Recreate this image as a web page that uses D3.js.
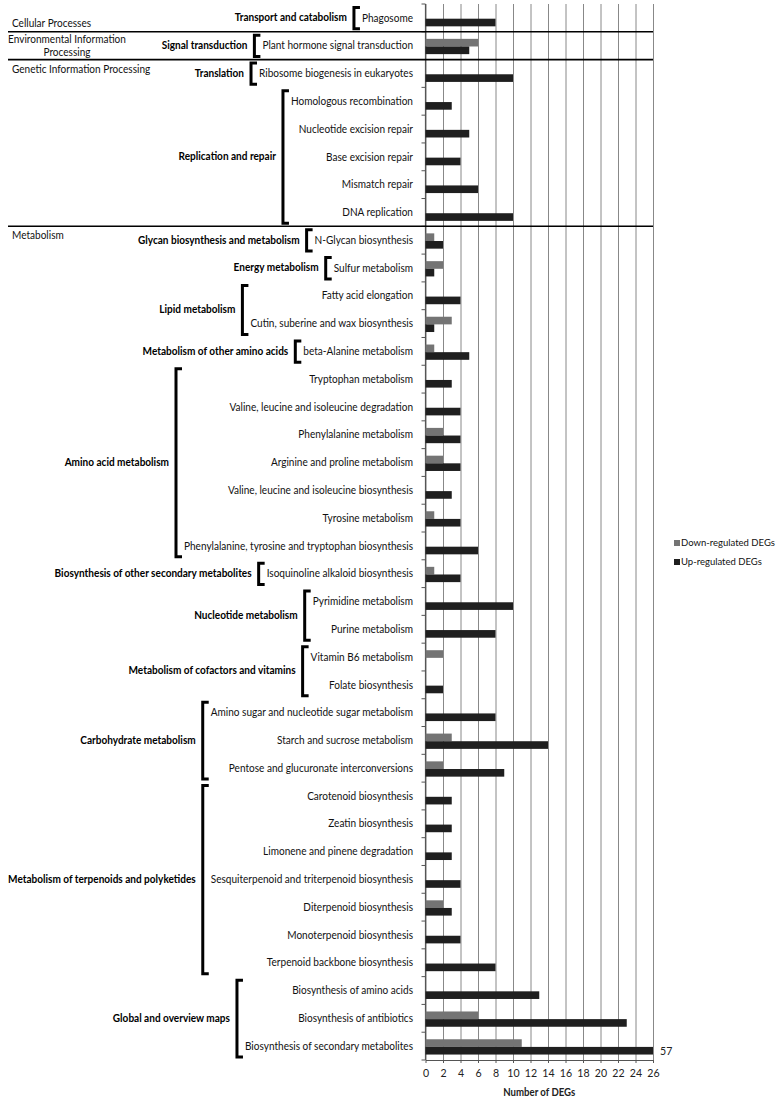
<!DOCTYPE html>
<html><head><meta charset="utf-8">
<script src="https://cdn.jsdelivr.net/npm/d3@7/dist/d3.min.js"></script>
<style>body{margin:0;background:#fff}</style>
</head><body>
<svg id="chart" width="783" height="1098"></svg>
<script>
const categories = ["Cellular Processes", "Environmental Information Processing", "Genetic Information Processing", "Metabolism"];
const categoryGroupCounts = [1, 1, 2, 11];
const groups = ["Transport and catabolism", "Signal transduction", "Translation", "Replication and repair",
  "Glycan biosynthesis and metabolism", "Energy metabolism", "Lipid metabolism", "Metabolism of other amino acids",
  "Amino acid metabolism", "Biosynthesis of other secondary metabolites", "Nucleotide metabolism",
  "Metabolism of cofactors and vitamins", "Carbohydrate metabolism", "Metabolism of terpenoids and polyketides",
  "Global and overview maps"];
const groupSizes = [1, 1, 1, 5, 1, 1, 2, 1, 7, 1, 2, 2, 3, 7, 3];
const pathways = ["Phagosome", "Plant hormone signal transduction", "Ribosome biogenesis in eukaryotes",
  "Homologous recombination", "Nucleotide excision repair", "Base excision repair", "Mismatch repair", "DNA replication",
  "N-Glycan biosynthesis", "Sulfur metabolism", "Fatty acid elongation", "Cutin, suberine and wax biosynthesis",
  "beta-Alanine metabolism", "Tryptophan metabolism", "Valine, leucine and isoleucine degradation",
  "Phenylalanine metabolism", "Arginine and proline metabolism", "Valine, leucine and isoleucine biosynthesis",
  "Tyrosine metabolism", "Phenylalanine, tyrosine and tryptophan biosynthesis", "Isoquinoline alkaloid biosynthesis",
  "Pyrimidine metabolism", "Purine metabolism", "Vitamin B6 metabolism", "Folate biosynthesis",
  "Amino sugar and nucleotide sugar metabolism", "Starch and sucrose metabolism", "Pentose and glucuronate interconversions",
  "Carotenoid biosynthesis", "Zeatin biosynthesis", "Limonene and pinene degradation",
  "Sesquiterpenoid and triterpenoid biosynthesis", "Diterpenoid biosynthesis", "Monoterpenoid biosynthesis",
  "Terpenoid backbone biosynthesis", "Biosynthesis of amino acids", "Biosynthesis of antibiotics",
  "Biosynthesis of secondary metabolites"];
const downValues = [0, 6, 0, 0, 0, 0, 0, 0, 1, 2, 0, 3, 1, 0, 0, 2, 2, 0, 1, 0, 1, 0, 0, 2, 0, 0, 3, 2, 0, 0, 0, 0, 2, 0, 0, 0, 6, 11];
const upValues = [8, 5, 10, 3, 5, 4, 6, 10, 2, 1, 4, 1, 5, 3, 4, 4, 4, 3, 4, 6, 4, 10, 8, 0, 2, 8, 14, 9, 3, 3, 3, 4, 3, 4, 8, 13, 23, 57];
const xTicks = [0, 2, 4, 6, 8, 10, 12, 14, 16, 18, 20, 22, 24, 26];
const xMax = 26;
const seriesNames = ["Down-regulated DEGs", "Up-regulated DEGs"];
const axisTitle = "Number of DEGs";

const colors = {down: "#747474", up: "#1f1f1f", grid: "#888888"};
const FONT = "Lato, 'Liberation Sans', sans-serif";
const FS = 10.6;

const svg = d3.select("#chart").attr("font-family", FONT);
svg.append("rect").attr("width", 783).attr("height", 1098).attr("fill", "#fff");

// horizontal compression factor so the longest pathway label has the reference width (narrow Calibri-like look)
const probe = svg.append("text").attr("font-size", FS);
let maxW = 0;
pathways.forEach(p => { probe.text(p); maxW = Math.max(maxW, probe.node().getComputedTextLength()); });
probe.remove();
const K = 229 / maxW;

function squeeze(sel, k) {
  sel.each(function() {
    const w = this.getComputedTextLength();
    d3.select(this).attr("textLength", w * k).attr("lengthAdjust", "spacingAndGlyphs");
  });
  return sel;
}

const x = d3.scaleLinear().domain([0, xMax]).range([425.5, 653]);
const y = d3.scaleBand().domain(pathways).range([4, 1060]);
const step = y.step();
const plotTop = y.range()[0], plotBottom = y.range()[1];

// grid lines
svg.append("g").attr("transform", `translate(0,${plotBottom})`)
  .call(d3.axisBottom(x).tickValues(xTicks).tickSize(-(plotBottom - plotTop)).tickSizeOuter(0).tickFormat(""))
  .call(g => g.select(".domain").remove())
  .call(g => g.selectAll("line").attr("stroke", colors.grid).attr("stroke-width", 1));

// bottom axis
const xAxis = svg.append("g").attr("transform", `translate(0,${plotBottom})`)
  .call(d3.axisBottom(x).tickValues(xTicks).tickSize(3).tickSizeOuter(0).tickPadding(6));
xAxis.select(".domain").attr("stroke", "#555").attr("stroke-width", 1.2);
xAxis.selectAll("line").attr("stroke", "#555");
xAxis.selectAll("text").attr("font-size", 11.5).attr("fill", "#222").attr("font-family", FONT);
squeeze(xAxis.selectAll("text"), 0.92);

const title = svg.append("text").attr("x", (x(0) + x(xMax)) / 2).attr("y", 1092).attr("dy", "0.35em").attr("text-anchor", "middle")
  .attr("font-size", FS + 0.4).attr("font-weight", "bold").attr("fill", "#222").text(axisTitle);
title.attr("textLength", 72).attr("lengthAdjust", "spacingAndGlyphs");

// y axis line + ticks at row boundaries
svg.append("line").attr("x1", x(0)).attr("x2", x(0)).attr("y1", plotTop).attr("y2", plotBottom)
  .attr("stroke", "#555").attr("stroke-width", 1.2);
svg.append("g").selectAll("line").data(d3.range(pathways.length + 1)).join("line")
  .attr("x1", x(0) - 4).attr("x2", x(0))
  .attr("y1", i => plotTop + i * step).attr("y2", i => plotTop + i * step)
  .attr("stroke", "#555");

// bars
const barH = step * 0.275, off = 0.8;
const rows = pathways.map((p, i) => ({p, down: downValues[i], up: upValues[i]}));
svg.append("g").selectAll("rect").data(rows.filter(d => d.down > 0)).join("rect")
  .attr("x", x(0)).attr("y", d => y(d.p) + step / 2 + off - barH)
  .attr("width", d => x(Math.min(d.down, xMax)) - x(0)).attr("height", barH).attr("fill", colors.down);
svg.append("g").selectAll("rect").data(rows.filter(d => d.up > 0)).join("rect")
  .attr("x", x(0)).attr("y", d => y(d.p) + step / 2 + off)
  .attr("width", d => x(Math.min(d.up, xMax)) - x(0)).attr("height", barH).attr("fill", colors.up);
// overflow value label
squeeze(svg.append("g").selectAll("text").data(rows.filter(d => d.up > xMax)).join("text")
  .attr("x", x(xMax) + 7).attr("y", d => y(d.p) + step / 2 + off + barH / 2).attr("dy", "0.35em")
  .attr("font-size", 11.5).attr("fill", "#222").text(d => d.up), 0.92);

// pathway labels
const labelRight = 413;
const labels = svg.append("g").selectAll("text").data(pathways).join("text")
  .attr("x", labelRight).attr("y", d => y(d) + step / 2).attr("dy", "0.35em")
  .attr("text-anchor", "end").attr("font-size", FS).attr("fill", "#111").text(d => d);
const labelW = {};
labels.each(function(d) { labelW[d] = this.getComputedTextLength() * K; });
squeeze(labels, K);

// groups with brackets
let idx = 0;
const groupStart = [];
groups.forEach((gname, gi) => {
  const members = pathways.slice(idx, idx + groupSizes[gi]);
  groupStart.push(idx);
  idx += groupSizes[gi];
  const top = y(members[0]) + 3.5, bottom = y(members[members.length - 1]) + step - 3;
  const minStart = d3.min(members, m => labelRight - labelW[m]);
  const bx = minStart - 8;
  svg.append("path").attr("d", `M${bx + 6},${top}H${bx}V${bottom}H${bx + 6}`)
    .attr("fill", "none").attr("stroke", "#000").attr("stroke-width", 3);
  squeeze(svg.append("text").attr("x", bx - 7).attr("y", (top + bottom) / 2 - 0.5).attr("dy", "0.35em")
    .attr("text-anchor", "end").attr("font-size", FS).attr("font-weight", "bold").attr("fill", "#000").text(gname), K);
});

// categories and separators
let gIdx = 0;
categories.forEach((c, ci) => {
  const firstRow = groupStart[gIdx];
  gIdx += categoryGroupCounts[ci];
  const lastRow = gIdx < groups.length ? groupStart[gIdx] : pathways.length;
  const rowTop = plotTop + firstRow * step;
  const cy = rowTop + step / 2;
  const t = svg.append("g").attr("font-size", FS).attr("fill", "#111");
  if (ci === 1) {
    const words = c.split(" ");
    squeeze(t.append("text").attr("text-anchor", "middle").attr("x", 67).attr("y", cy - 6).attr("dy", "0.35em")
      .text(words.slice(0, 2).join(" ")), K);
    squeeze(t.append("text").attr("text-anchor", "middle").attr("x", 67).attr("y", cy + 7).attr("dy", "0.35em")
      .text(words.slice(2).join(" ")), K);
  } else {
    const dyOff = ci === 0 ? 5 : -4.5;
    squeeze(t.append("text").attr("x", 12).attr("y", cy + dyOff).attr("dy", "0.35em").text(c), K);
  }
  if (ci < categories.length - 1) {
    const sy = plotTop + lastRow * step;
    svg.append("line").attr("x1", 8).attr("x2", x(xMax)).attr("y1", sy).attr("y2", sy)
      .attr("stroke", "#000").attr("stroke-width", 1.6);
  }
});

// legend (font size fitted so the longer entry spans the reference width)
const legend = svg.append("g");
const legTexts = [];
seriesNames.forEach((s, i) => {
  const ly = 543 + i * 19;
  legend.append("rect").attr("x", 674).attr("y", ly - 3).attr("width", 6).attr("height", 6)
    .attr("fill", i === 0 ? colors.down : colors.up);
  legTexts.push(legend.append("text").attr("x", 681).attr("y", ly).attr("dy", "0.35em")
    .attr("font-size", 11).attr("fill", "#111").text(s));
});
const legMax = d3.max(legTexts, t => t.node().getComputedTextLength());
legTexts.forEach(t => t.attr("font-size", 11 * 94 / legMax));
</script>
</body></html>
